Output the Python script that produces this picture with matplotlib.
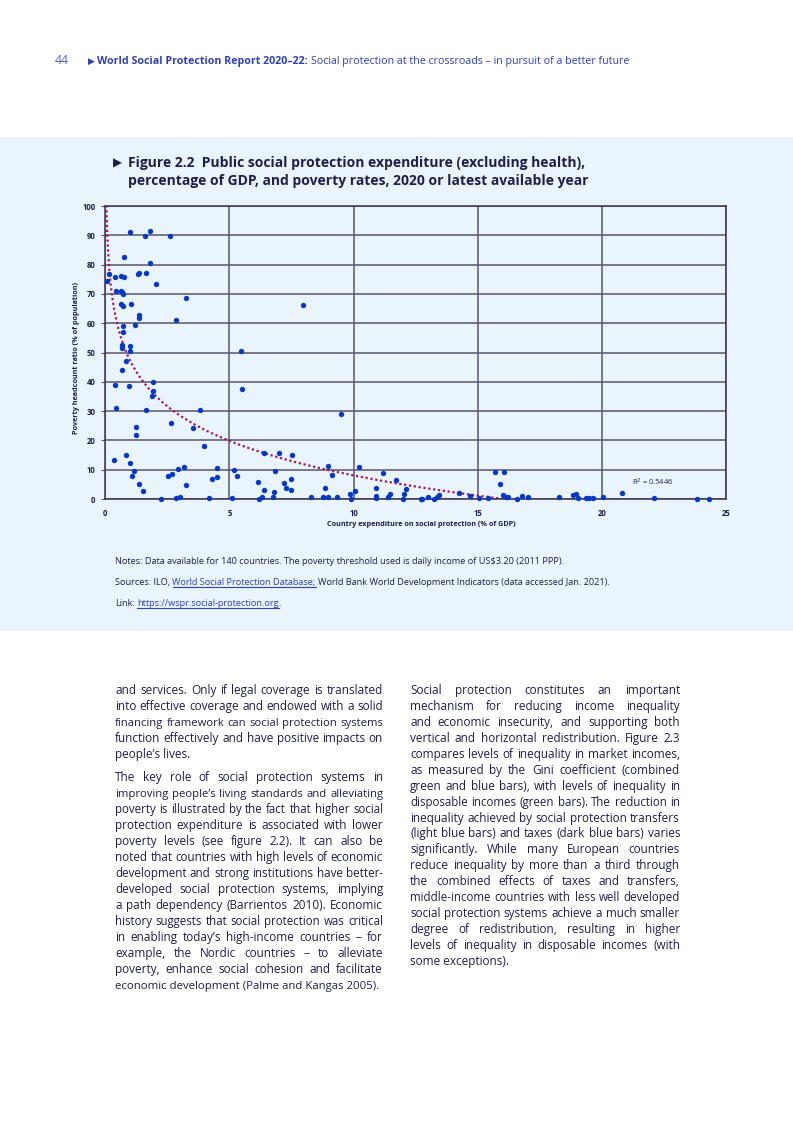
import numpy as np
import matplotlib.pyplot as plt
from matplotlib.patches import Rectangle
from matplotlib.lines import Line2D

plt.rcParams['font.family'] = ['Open Sans', 'DejaVu Sans']

# social protection expenditure (% of GDP) and poverty headcount (% of population)
spend = [0.98, 1.79, 1.61, 2.59, 0.75, 1.79, 0.14, 0.08, 0.40, 0.62, 0.75, 1.30, 1.34, 1.65,
         2.05, 0.44, 0.62, 0.67, 0.71, 3.26, 0.62, 0.71, 1.02, 1.37, 1.37, 2.86, 1.21, 0.71,
         0.71, 0.67, 0.67, 0.98, 0.98,
         0.85, 0.67, 0.40, 1.92, 0.94, 1.92, 1.88, 0.44, 1.65, 3.80, 2.63, 1.25, 3.53, 1.25,
         3.97, 0.82, 0.35, 0.98, 1.15, 1.07, 1.34, 1.52, 2.23, 2.51, 2.68, 2.91, 3.17, 3.27,
         2.86, 3.00, 4.16, 4.29, 4.48, 4.48, 5.10, 5.18, 5.32,
         7.97, 5.45, 5.50, 9.48, 6.40, 7.01, 7.51, 6.84, 6.17, 6.40, 6.21, 6.30, 6.75, 6.80,
         7.20, 7.28, 7.47, 7.47, 8.27, 8.77, 8.95, 8.85, 8.95, 9.12, 9.35, 9.84, 9.88, 10.06,
         10.21, 10.90, 10.90, 10.90, 11.17, 11.37, 11.45, 11.72, 11.99, 12.03, 12.12, 12.70,
         12.75, 12.98, 13.25, 13.34, 13.46, 14.23, 14.67, 15.07, 15.43,
         15.70, 16.05, 15.88, 16.01, 16.15, 16.23, 16.60, 16.77, 17.04, 18.29, 18.83, 18.96,
         19.05, 19.36, 19.50, 19.65, 20.05, 20.81, 22.10, 23.85, 24.32]
poverty = [91.1, 91.6, 89.9, 89.9, 82.7, 80.4, 76.8, 74.3, 75.9, 76.1, 75.7, 76.7, 77.2, 77.1,
           73.3, 71.0, 71.1, 70.6, 70.0, 68.7, 66.4, 65.8, 66.7, 62.9, 61.9, 61.1, 59.4, 59.0,
           57.1, 52.6, 51.4, 52.2, 50.5,
           47.2, 44.1, 39.0, 40.0, 38.5, 36.8, 35.2, 31.0, 30.4, 30.4, 26.1, 24.6, 24.2, 21.7,
           18.0, 15.1, 13.3, 12.3, 9.7, 7.7, 5.2, 2.7, 0.1, 7.7, 8.4, 10.2, 11.0, 4.7,
           0.3, 0.6, 0.3, 6.9, 7.4, 10.5, 0.3, 9.8, 8.0,
           66.2, 50.4, 37.4, 29.1, 15.6, 15.6, 14.9, 9.6, 5.9, 3.2, 0.1, 0.6, 0.8, 2.4,
           5.5, 3.9, 6.7, 3.2, 0.6, 0.6, 0.6, 3.9, 11.3, 8.2, 0.8, 1.7, 0.1, 2.8,
           11.0, 3.9, 1.1, 0.2, 9.0, 0.8, 1.6, 6.5, 0.1, 1.6, 3.4, 0.1,
           0.1, 0.6, 0.1, 0.6, 1.4, 1.9, 1.1, 0.3, 0.3,
           9.3, 9.1, 5.2, 1.3, 0.6, 0.6, 0.1, 1.1, 0.8, 0.6, 1.4, 1.6,
           0.3, 0.3, 0.3, 0.3, 0.6, 1.9, 0.3, 0.1, 0.1]

xticks = [0, 5, 10, 15, 20, 25]
yticks = [0, 10, 20, 30, 40, 50, 60, 70, 80, 90, 100]

W, H = 793, 1122
navy = '#1f1d4a'
blue = '#2d3fc2'
band = '#eaf4fc'

fig = plt.figure(figsize=(W / 100, H / 100), dpi=100)
fig.patches.append(Rectangle((0, 1 - 630 / H), 1, 493 / H, transform=fig.transFigure,
                             color=band, zorder=-5))

ax = fig.add_axes([105.3 / W, 1 - 499 / H, 620.7 / W, 293 / H])
ax.set_facecolor(band)
ax.scatter(spend, poverty, s=15, color='#0638c8', linewidths=0, zorder=3, clip_on=False)

# logarithmic trend line
coef = np.polyfit(np.log(spend), poverty, 1)
xs = np.linspace(0.03, 16.5, 800)
ax.plot(xs, np.polyval(coef, np.log(xs)), ls=(0, (1, 1.2)), color='#a3195b', lw=1.6, zorder=2)

ax.set_xlim(0, 25)
ax.set_ylim(0, 100)
ax.set_xticks(xticks)
ax.set_yticks(yticks)
ax.grid(color='#5a5470', lw=1.1, zorder=1)
ax.set_axisbelow(True)
for s in ax.spines.values():
    s.set_color('#3a3350')
    s.set_linewidth(1.1)
ax.tick_params(axis='x', length=0, pad=7, labelsize=5.6, labelcolor=navy)
ax.tick_params(axis='y', length=3, color='#5a5470', pad=4, labelsize=5.6, labelcolor=navy)
for lab in ax.get_xticklabels() + ax.get_yticklabels():
    lab.set_fontweight('bold')
ax.text(21.2, 5.8, 'R$^2$ = 0.5446', fontsize=5.4, color=navy, va='center')

fig.text(77 / W, 1 - 358 / H, 'Poverty headcount ratio (% of population)', rotation=90,
         fontsize=5.2, fontweight='bold', color=navy, ha='center', va='center')
fig.text(421 / W, 1 - 525 / H, 'Country expenditure on social protection (% of GDP)',
         fontsize=5.2, fontweight='bold', color=navy, ha='center', va='center')

fig.canvas.draw()
r = fig.canvas.get_renderer()


def width(s, **kw):
    t = fig.text(0, 0, s, **kw)
    w = t.get_window_extent(r).width
    t.remove()
    return w


def runs(x, py, parts):
    # parts: (text, style, space_after, underline)
    for s, kw, sp, ul in parts:
        t = fig.text(x / W, 1 - py / H, s, va='baseline', **kw)
        w = t.get_window_extent(r).width
        if ul:
            fig.add_artist(Line2D([x / W, (x + w) / W], [1 - (py + 2) / H] * 2,
                                  color=kw.get('color', navy), lw=0.8))
        x += w
        if sp:
            x += width('a a', **kw) - width('aa', **kw)
    return x


# page header
hdr = dict(fontsize=7.65, color=blue)
fig.text(55 / W, 1 - 64 / H, '44', va='baseline', fontsize=8.8, color='#5560c8')
runs(88, 64, [('▶', dict(fontsize=6.5, color=blue), True, False),
              ('World Social Protection Report 2020–22:', dict(hdr, fontweight='bold'), True, False),
              ('Social protection at the crossroads – in pursuit of a better future', hdr, False, False)])

# figure title
ttl = dict(fontsize=10.0, fontweight='bold', color=navy)
fig.text(113 / W, 1 - 167 / H, '▶', va='baseline', fontsize=8.5, color=navy)
fig.text(128 / W, 1 - 167 / H, 'Figure 2.2  Public social protection expenditure (excluding health),',
         va='baseline', **ttl)
fig.text(128 / W, 1 - 185 / H, 'percentage of GDP, and poverty rates, 2020 or latest available year',
         va='baseline', **ttl)

# notes
nt = dict(fontsize=6.6, color=navy)
lk = dict(fontsize=6.6, color=blue)
runs(115, 564, [('Notes: Data available for 140 countries. The poverty threshold used is daily '
                 'income of US$3.20 (2011 PPP).', nt, False, False)])
runs(115, 585, [('Sources: ILO,', nt, True, False),
                ('World Social Protection Database;', lk, True, True),
                ('World Bank World Development Indicators (data accessed Jan. 2021).', nt, False, False)])
runs(115, 606, [('Link:', nt, True, False),
                ('https://wspr.social-protection.org', lk, False, True),
                ('.', nt, False, False)])

# body text, justified
body = dict(fontsize=8.45, color=navy)


def para(lines, x0, y0, w, dy):
    for i, line in enumerate(lines):
        y = 1 - (y0 + i * dy) / H
        words = line.split()
        kw = dict(body)
        full = width(line, **kw)
        if full > w:
            kw['fontsize'] = body['fontsize'] * w / full * 0.99
        if i == len(lines) - 1:
            fig.text(x0 / W, y, line, va='baseline', **kw)
            continue
        ws = [width(wd, **kw) for wd in words]
        gap = (w - sum(ws)) / (len(words) - 1)
        x = x0
        for wd, ww in zip(words, ws):
            fig.text(x / W, y, wd, va='baseline', **kw)
            x += ww + gap


p1 = ['and services. Only if legal coverage is translated',
      'into effective coverage and endowed with a solid',
      'financing framework can social protection systems',
      'function effectively and have positive impacts on',
      'people’s lives.']
p2 = ['The key role of social protection systems in',
      'improving people’s living standards and alleviating',
      'poverty is illustrated by the fact that higher social',
      'protection expenditure is associated with lower',
      'poverty levels (see figure 2.2). It can also be',
      'noted that countries with high levels of economic',
      'development and strong institutions have better-',
      'developed social protection systems, implying',
      'a path dependency (Barrientos 2010). Economic',
      'history suggests that social protection was critical',
      'in enabling today’s high-income countries – for',
      'example, the Nordic countries – to alleviate',
      'poverty, enhance social cohesion and facilitate',
      'economic development (Palme and Kangas 2005).']
p3 = ['Social protection constitutes an important',
      'mechanism for reducing income inequality',
      'and economic insecurity, and supporting both',
      'vertical and horizontal redistribution. Figure 2.3',
      'compares levels of inequality in market incomes,',
      'as measured by the Gini coefficient (combined',
      'green and blue bars), with levels of inequality in',
      'disposable incomes (green bars). The reduction in',
      'inequality achieved by social protection transfers',
      '(light blue bars) and taxes (dark blue bars) varies',
      'significantly. While many European countries',
      'reduce inequality by more than a third through',
      'the combined effects of taxes and transfers,',
      'middle-income countries with less well developed',
      'social protection systems achieve a much smaller',
      'degree of redistribution, resulting in higher',
      'levels of inequality in disposable incomes (with',
      'some exceptions).']

para(p1, 115, 694, 268, 16)
para(p2, 115, 781, 268, 16)
para(p3, 410, 694, 270, 15.94)

fig.savefig('out.png', dpi=100, facecolor='white')
